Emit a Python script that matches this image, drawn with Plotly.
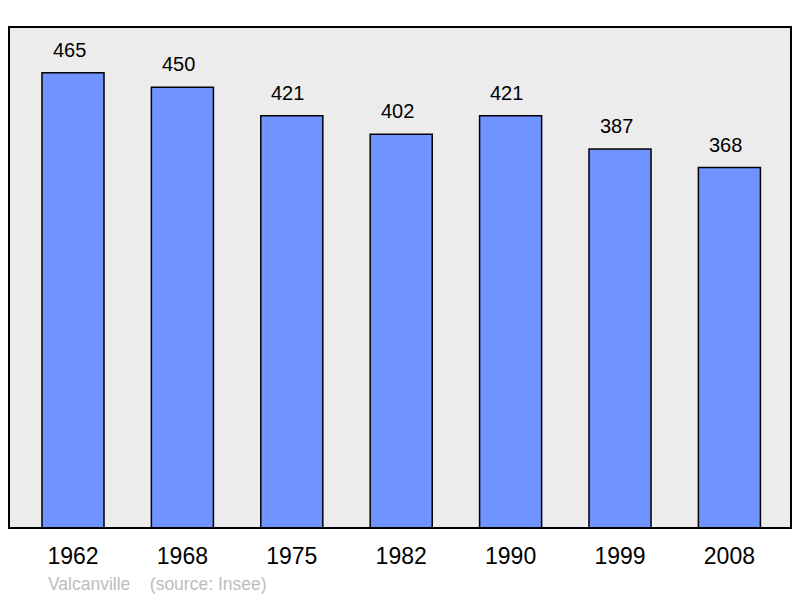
import plotly.graph_objects as go

years = ["1962", "1968", "1975", "1982", "1990", "1999", "2008"]
population = [465, 450, 421, 402, 421, 387, 368]
commune = "Valcanville"
source = "(source: Insee)"

fig = go.Figure()
fig.add_trace(go.Bar(
    x=list(range(len(years))), y=population,
    width=0.567,
    marker=dict(color="#7094ff", line=dict(color="#000000", width=1.5)),
    hoverinfo="skip",
))

for i, v in enumerate(population):
    fig.add_annotation(x=i, y=v, text=str(v), showarrow=False,
                       yanchor="bottom", yshift=10, xshift=-4,
                       font=dict(family="Liberation Sans, Arial", size=20, color="#000"))

fig.add_annotation(x=0, xref="paper", xshift=37, y=-0.1, yref="paper", yshift=-6,
                   text=commune + "&nbsp;&nbsp;&nbsp;&nbsp;" + source,
                   showarrow=False, xanchor="left", yanchor="middle",
                   font=dict(family="Liberation Sans, Arial", size=17.5, color="#bdbdbd"))

fig.add_shape(type="rect", xref="paper", yref="paper", x0=0, x1=1, y0=0, y1=1,
              line=dict(color="#000", width=2), layer="above")

fig.update_layout(
    width=792, height=590,
    margin=dict(l=1, r=9, t=19, b=70),
    paper_bgcolor="#ffffff", plot_bgcolor="#ececec",
    showlegend=False,
    xaxis=dict(range=[-0.585, 6.563], tickmode="array",
               tickvals=list(range(len(years))), ticktext=years,
               showgrid=False, zeroline=False, ticks="", showline=False,
               ticklabelstandoff=12,
               tickfont=dict(family="Liberation Sans, Arial", size=23, color="#000")),
    yaxis=dict(range=[0, 511.6], showgrid=False, zeroline=False,
               showticklabels=False, ticks=""),
)

fig.write_html("out.html")
